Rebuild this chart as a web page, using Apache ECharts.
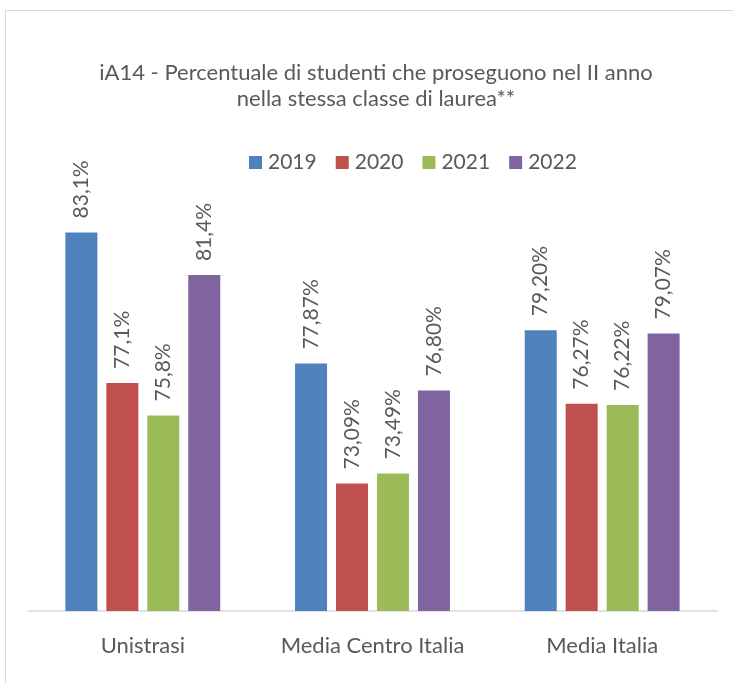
<!DOCTYPE html>
<html><head><meta charset="utf-8">
<script src="https://cdn.jsdelivr.net/npm/echarts@6/dist/echarts.min.js"></script>
<style>html,body{margin:0;padding:0;background:#fff}#c{width:733px;height:683px}</style>
</head><body><div id="c"></div>
<script>
const categories = ['Unistrasi', 'Media Centro Italia', 'Media Italia'];
const years = ['2019', '2020', '2021', '2022'];
const v2019 = [83.1, 77.87, 79.20];
const v2020 = [77.1, 73.09, 76.27];
const v2021 = [75.8, 73.49, 76.22];
const v2022 = [81.4, 76.80, 79.07];
const labelDecimals = [1, 2, 2];
const colors = ['#4f81bd', '#c0504d', '#9bbb59', '#8064a2'];
const seriesValues = [v2019, v2020, v2021, v2022];

const FONT = 'Lato';
const chart = echarts.init(document.getElementById('c'));
chart.setOption({
  animation: false,
  graphic: [{type: 'rect', shape: {x: 5.5, y: 10.5, width: 760, height: 700}, style: {fill: 'none', stroke: '#d9d9d9', lineWidth: 1}, silent: true}],
  title: {
    text: 'iA14 - Percentuale di studenti che proseguono nel II anno\nnella stessa classe di laurea**',
    left: 371, textAlign: 'center', top: 55,
    textStyle: {fontFamily: FONT, fontSize: 22, fontWeight: 'normal', color: '#595959', lineHeight: 26}
  },
  legend: {
    data: years, left: 244, top: 147, itemWidth: 13, itemHeight: 13, itemGap: 19,
    icon: 'rect',
    textStyle: {fontFamily: FONT, fontSize: 21, color: '#595959', padding: [0,0,0,1]}
  },
  grid: {left: 28, right: 16, top: 59.5, bottom: 72, containLabel: false},
  xAxis: {
    type: 'category', data: categories,
    axisLine: {lineStyle: {color: '#d9d9d9', width: 1.5}},
    axisTick: {show: false},
    axisLabel: {interval: 0, fontFamily: FONT, fontSize: 22, color: '#595959', margin: 24}
  },
  yAxis: {type: 'value', min: 68, max: 90, show: false, splitLine: {show: false}},
  series: seriesValues.map((vals, i) => ({
    name: years[i], type: 'bar', data: vals, barWidth: 32, barGap: '28%',
    itemStyle: {color: colors[i]},
    label: {
      show: true, position: 'top', rotate: 90, align: 'left', verticalAlign: 'middle', distance: 14,
      fontFamily: FONT, fontSize: 21, color: '#595959',
      formatter: p => p.value.toFixed(labelDecimals[p.dataIndex]).replace('.', ',') + '%'
    }
  }))
});
</script></body></html>
